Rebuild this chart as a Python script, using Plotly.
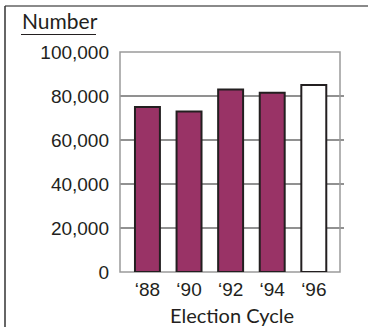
import plotly.graph_objects as go

# Election cycles and counts
cycles = ["\u201888", "\u201890", "\u201892", "\u201894", "\u201896"]
counts = [75000, 73000, 83000, 81500, 85000]
fills = ["#993366", "#993366", "#993366", "#993366", "#ffffff"]
y_ticks = [0, 20000, 40000, 60000, 80000, 100000]
y_tick_text = ["0", "20,000", "40,000", "60,000", "80,000", "100,000"]

W, H = 368, 327
L, R, T, B = 120, 28, 52, 55
pw, ph = W - L - R, H - T - B


def px_x(x):
    return (x - L) / pw


def px_y(y):
    return (H - B - y) / ph


fig = go.Figure(
    go.Bar(
        x=cycles,
        y=counts,
        width=0.6,
        marker=dict(color=fills, line=dict(color="#231f20", width=2)),
    )
)

shapes = []
# horizontal gridlines, extending a little past the right edge
for v in y_ticks[1:-1]:
    shapes.append(dict(type="line", xref="paper", yref="y", x0=0, x1=px_x(344),
                       y0=v, y1=v, line=dict(color="#6d6d6d", width=1.3), layer="below"))
# plot frame
shapes.append(dict(type="rect", xref="paper", yref="paper", x0=0, x1=1, y0=0, y1=1,
                   line=dict(color="#9a9a9a", width=1.5), layer="below"))
# outer panel edges (top and left)
shapes.append(dict(type="line", xref="paper", yref="paper", x0=px_x(5), x1=px_x(370),
                   y0=px_y(6), y1=px_y(6), line=dict(color="#8a8a8a", width=2)))
shapes.append(dict(type="line", xref="paper", yref="paper", x0=px_x(5), x1=px_x(5),
                   y0=px_y(6), y1=px_y(330), line=dict(color="#333333", width=1.5)))
# underline for the axis heading
shapes.append(dict(type="line", xref="paper", yref="paper", x0=px_x(21), x1=px_x(96),
                   y0=px_y(34.5), y1=px_y(34.5), line=dict(color="#231f20", width=1.2)))

tick_font = dict(family="Arial", size=19, color="#231f20")

annotations = [
    dict(text="Number", xref="paper", yref="paper", x=px_x(20), y=px_y(35),
         xanchor="left", yanchor="bottom", showarrow=False,
         font=dict(family="Lato", size=21, color="#231f20")),
    dict(text="Election Cycle", xref="paper", yref="paper", x=px_x(232), y=px_y(315),
         xanchor="center", yanchor="middle", showarrow=False,
         font=dict(family="Lato", size=20, color="#231f20")),
]

fig.update_layout(
    width=W, height=H,
    margin=dict(l=L, r=R, t=T, b=B),
    paper_bgcolor="white", plot_bgcolor="white",
    showlegend=False,
    bargap=0.4,
    shapes=shapes,
    annotations=annotations,
    xaxis=dict(type="category", range=[-0.66, 4.63], showgrid=False, zeroline=False,
               showline=False, ticks="", ticklabelstandoff=4, tickfont=tick_font),
    yaxis=dict(range=[0, 100000], tickvals=y_ticks, ticktext=y_tick_text,
               showgrid=False, zeroline=False, showline=False, ticks="",
               ticklabelstandoff=10, tickfont=tick_font),
)

fig.write_html("out.html")
